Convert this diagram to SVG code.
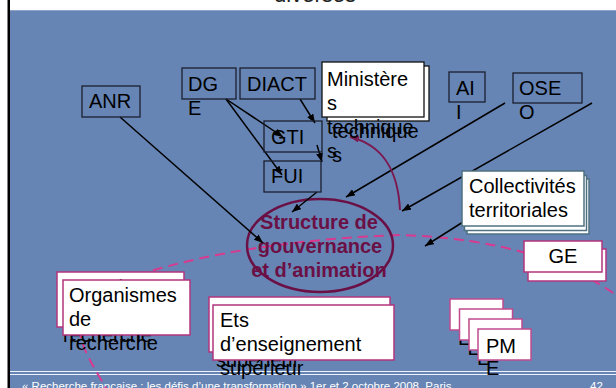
<svg xmlns="http://www.w3.org/2000/svg" width="616" height="388" viewBox="0 0 616 388">
<defs>
<style>
.t{font-family:"Liberation Sans",Arial,sans-serif;font-size:20px;fill:#000}
.bb{fill:none;stroke:#1c1f2e;stroke-width:1.3}
.wb{fill:#fff;stroke:#111;stroke-width:1.3}
.mb{fill:#fff;stroke:#b2357e;stroke-width:1.5}
.pb{fill:#fff;stroke:#c04a8e;stroke-width:1.5}
.cb{fill:#fff;stroke:#4e7080;stroke-width:1.5}
.ar{fill:none;stroke:#000;stroke-width:1.5;marker-end:url(#ah)}
.st{font-family:"Liberation Sans",Arial,sans-serif;font-size:20px;font-weight:bold;fill:#6b1045;text-anchor:middle}
.ft{font-family:"Liberation Sans",Arial,sans-serif;font-size:11.5px;fill:#fff}
</style>
<marker id="ah" markerUnits="userSpaceOnUse" markerWidth="9" markerHeight="7" refX="9" refY="3.5" orient="auto"><path d="M0,0 L9,3.5 L0,7 z" fill="#000"/></marker>
<marker id="mh" markerUnits="userSpaceOnUse" markerWidth="9" markerHeight="7" refX="9" refY="3.5" orient="auto"><path d="M0,0 L9,3.5 L0,7 z" fill="#7a1a50"/></marker>
</defs>
<rect x="0" y="0" width="616" height="388" fill="#fff"/>
<rect x="10" y="10" width="606" height="378" fill="#6685b5"/>
<line x1="10" y1="10.5" x2="616" y2="10.5" stroke="#8ea4cc" stroke-width="1"/>
<rect x="7.5" y="0" width="2.5" height="388" fill="#000"/>
<text x="315" y="1.5" font-family="Liberation Sans,Arial,sans-serif" font-size="22" fill="#222" text-anchor="middle">diverses</text>
<line x1="10" y1="371.5" x2="616" y2="371.5" stroke="#eef2fa" stroke-width="1"/>
<line x1="10" y1="374.5" x2="616" y2="374.5" stroke="#eef2fa" stroke-width="1"/>
<text class="ft" x="22" y="390">« Recherche française : les défis d’une transformation » 1er et 2 octobre 2008, Paris</text>
<text class="ft" x="590" y="390">42</text>

<path d="M110,395 C90,360 60,320 95,295 C130,270 250,240 400,235 C500,238 570,262 616,295" fill="none" stroke="#d9398e" stroke-width="2" stroke-dasharray="10,6"/>

<g id="gouvernance">
<ellipse cx="320" cy="245.5" rx="73" ry="46.5" fill="none" stroke="#6b1045" stroke-width="2.5"/>
<text class="st" x="319" y="229">Structure de</text>
<text class="st" x="320" y="253">gouvernance</text>
<text class="st" x="319" y="277">et d’animation</text>
</g>

<g id="connectors">
<path class="ar" d="M120,117 L263,243"/>
<path class="ar" d="M226,99 L283,137"/>
<path class="ar" d="M226,99 L282,175"/>
<path class="ar" d="M300,99 L315,123"/>
<path class="ar" d="M317,145 L322,162"/>
<path class="ar" d="M317,192 L292,212"/>
<path class="ar" d="M505,103 L346,197"/>
<path class="ar" d="M592,103 L402,211"/>
<path class="ar" d="M463,222 L425,246"/>
<path d="M400,210 C398,170 383,145 350,137" fill="none" stroke="#7a1a50" stroke-width="2" marker-end="url(#mh)"/>
</g>

<g id="anr"><rect class="bb" x="82" y="86" width="58" height="31"/><text class="t" x="89" y="108">ANR</text></g>
<g id="dge"><rect class="bb" x="182" y="68" width="54" height="31"/><text class="t" x="188" y="91">DG</text><text class="t" x="188" y="115">E</text></g>
<g id="diact"><rect class="bb" x="240" y="68" width="75" height="31"/><text class="t" x="247" y="91">DIACT</text></g>
<g id="gti"><rect class="bb" x="264" y="121" width="58" height="31"/><text class="t" x="271" y="144">GTI</text></g>
<g id="fui"><rect class="bb" x="264" y="161" width="57" height="31"/><text class="t" x="271" y="183">FUI</text></g>

<g id="ministeres">
<rect class="wb" x="327" y="66" width="102" height="55"/>
<text class="t" x="332" y="90">Ministère</text><text class="t" x="332" y="114">s</text><text class="t" x="332" y="138">technique</text><text class="t" x="332" y="162">s</text>
<rect class="wb" x="322" y="62" width="102" height="55"/>
<text class="t" x="327" y="86">Ministère</text><text class="t" x="327" y="110">s</text><text class="t" x="327" y="134">technique</text><text class="t" x="327" y="158">s</text>
</g>

<g id="aii"><rect class="bb" x="449" y="72" width="36" height="30"/><text class="t" x="456" y="95">AI</text><text class="t" x="456" y="119">I</text></g>
<g id="oseo"><rect class="bb" x="513" y="73" width="69" height="30"/><text class="t" x="519" y="95">OSE</text><text class="t" x="519" y="119">O</text></g>

<g id="collectivites">
<rect class="cb" x="467" y="179" width="122" height="55"/>
<text class="t" x="474" y="201">Collectivités</text><text class="t" x="474" y="225">territoriales</text>
<rect class="cb" x="464.5" y="175.5" width="122" height="55"/>
<text class="t" x="471" y="197">Collectivités</text><text class="t" x="471" y="221">territoriales</text>
<rect class="cb" x="462" y="171" width="122" height="55"/>
<text class="t" x="469" y="193">Collectivités</text><text class="t" x="469" y="217">territoriales</text>
</g>

<g id="ge">
<rect class="mb" x="528" y="249" width="78" height="32"/>
<text class="t" x="567" y="271" text-anchor="middle">GE</text>
<rect class="mb" x="524" y="241" width="78" height="31"/>
<text class="t" x="563" y="263" text-anchor="middle">GE</text>
</g>

<g id="organismes">
<rect class="mb" x="57" y="272" width="127" height="55"/>
<text class="t" x="63" y="294">Organismes</text><text class="t" x="63" y="318">de</text><text class="t" x="63" y="342">recherche</text>
<rect class="mb" x="63" y="280" width="127" height="55"/>
<text class="t" x="69" y="302">Organismes</text><text class="t" x="69" y="326">de</text><text class="t" x="69" y="350">recherche</text>
</g>

<g id="ets">
<rect class="mb" x="209" y="297" width="181" height="55"/>
<text class="t" x="216" y="319">Ets</text><text class="t" x="216" y="343">d’enseignement</text><text class="t" x="216" y="367">supérieur</text>
<rect class="mb" x="213" y="305" width="181" height="55"/>
<text class="t" x="220" y="327">Ets</text><text class="t" x="220" y="351">d’enseignement</text><text class="t" x="220" y="375">supérieur</text>
</g>

<g id="pme">
<rect class="pb" x="450" y="299" width="53" height="31"/><text class="t" x="458" y="323">PM</text><text class="t" x="458" y="345">E</text>
<rect class="pb" x="459.5" y="309" width="53" height="31"/><text class="t" x="467.5" y="333">PM</text><text class="t" x="467.5" y="355">E</text>
<rect class="pb" x="469" y="319" width="53" height="31"/><text class="t" x="477" y="343">PM</text><text class="t" x="477" y="365">E</text>
<rect class="pb" x="478" y="329" width="53" height="31"/><text class="t" x="486" y="353">PM</text><text class="t" x="486" y="375">E</text>
</g>
</svg>
